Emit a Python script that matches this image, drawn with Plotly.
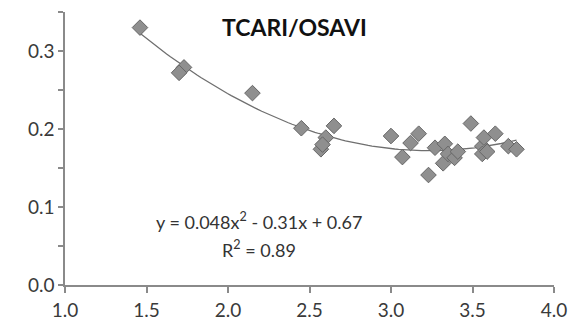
import numpy as np
import plotly.graph_objects as go

x_vals = [1.46, 1.73, 1.70, 2.15, 2.45, 2.65, 2.60, 2.57, 2.58,
          3.00, 3.07, 3.12, 3.17, 3.23, 3.27, 3.33, 3.32, 3.35, 3.39, 3.41,
          3.49, 3.56, 3.57, 3.56, 3.59, 3.64, 3.72, 3.77]
y_vals = [0.330, 0.279, 0.272, 0.246, 0.201, 0.204, 0.189, 0.174, 0.180,
          0.191, 0.164, 0.182, 0.194, 0.141, 0.176, 0.181, 0.156, 0.168, 0.163, 0.171,
          0.207, 0.178, 0.189, 0.168, 0.171, 0.194, 0.178, 0.174]

title_text = "TCARI/OSAVI"
eq_text = "y = 0.048x<sup>2</sup> - 0.31x + 0.67"
r2_text = "R<sup>2</sup> = 0.89"

y_tickvals = [0, 0.1, 0.2, 0.3]
y_ticktext = ["0.0", "0.1", "0.2", "0.3"]
x_tickvals = [1.0, 1.5, 2.0, 2.5, 3.0, 3.5, 4.0]
x_ticktext = ["1.0", "1.5", "2.0", "2.5", "3.0", "3.5", "4.0"]

coef = np.polyfit(x_vals, y_vals, 2)
xf = np.linspace(min(x_vals), max(x_vals), 100)
yf = np.polyval(coef, xf)

FONT = "Lato, 'Open Sans', sans-serif"

fig = go.Figure()
fig.add_trace(go.Scatter(x=xf, y=yf, mode="lines",
                         line=dict(color="#6f6f6f", width=1.3), hoverinfo="skip"))
fig.add_trace(go.Scatter(x=x_vals, y=y_vals, mode="markers",
                         marker=dict(symbol="diamond", size=12, color="#8f8f8f",
                                     line=dict(color="#666666", width=1))))

fig.add_annotation(x=2.41, y=0.35, yshift=1, text="<b>" + title_text + "</b>",
                   showarrow=False, yanchor="top",
                   font=dict(family=FONT, size=23, color="#111111"))
fig.add_annotation(x=2.19, y=0.081, yshift=1, text=eq_text, showarrow=False,
                   font=dict(family=FONT, size=18, color="#333333"))
fig.add_annotation(x=2.19, y=0.045, yshift=1, text=r2_text, showarrow=False,
                   font=dict(family=FONT, size=18, color="#333333"))

fig.update_layout(
    width=581, height=320,
    margin=dict(l=65, r=27, t=12, b=35),
    paper_bgcolor="white", plot_bgcolor="white",
    showlegend=False,
    font=dict(family=FONT, size=14, color="#333333"),
)
fig.update_xaxes(range=[1.0, 4.0], tickvals=x_tickvals, ticktext=x_ticktext,
                 showgrid=False, zeroline=False, showline=True, linecolor="#8a8a8a",
                 linewidth=1.5, ticks="outside", ticklen=6, tickcolor="#8a8a8a",
                 tickwidth=1.5, tickfont=dict(size=19, color="#3a3a3a"),
                 ticklabelstandoff=1, automargin=False)
fig.update_yaxes(range=[0, 0.35], tickvals=y_tickvals, ticktext=y_ticktext,
                 showgrid=False, zeroline=False, showline=True, linecolor="#8a8a8a",
                 linewidth=1.5, ticks="outside", ticklen=5, tickcolor="#8a8a8a",
                 tickwidth=1.5, tickfont=dict(size=19, color="#3a3a3a"),
                 minor=dict(tickvals=[0.05, 0.15, 0.25, 0.35], ticks="outside",
                            ticklen=5, tickcolor="#8a8a8a", tickwidth=1.5,
                            showgrid=False),
                 automargin=False)

fig.write_html("out.html")
